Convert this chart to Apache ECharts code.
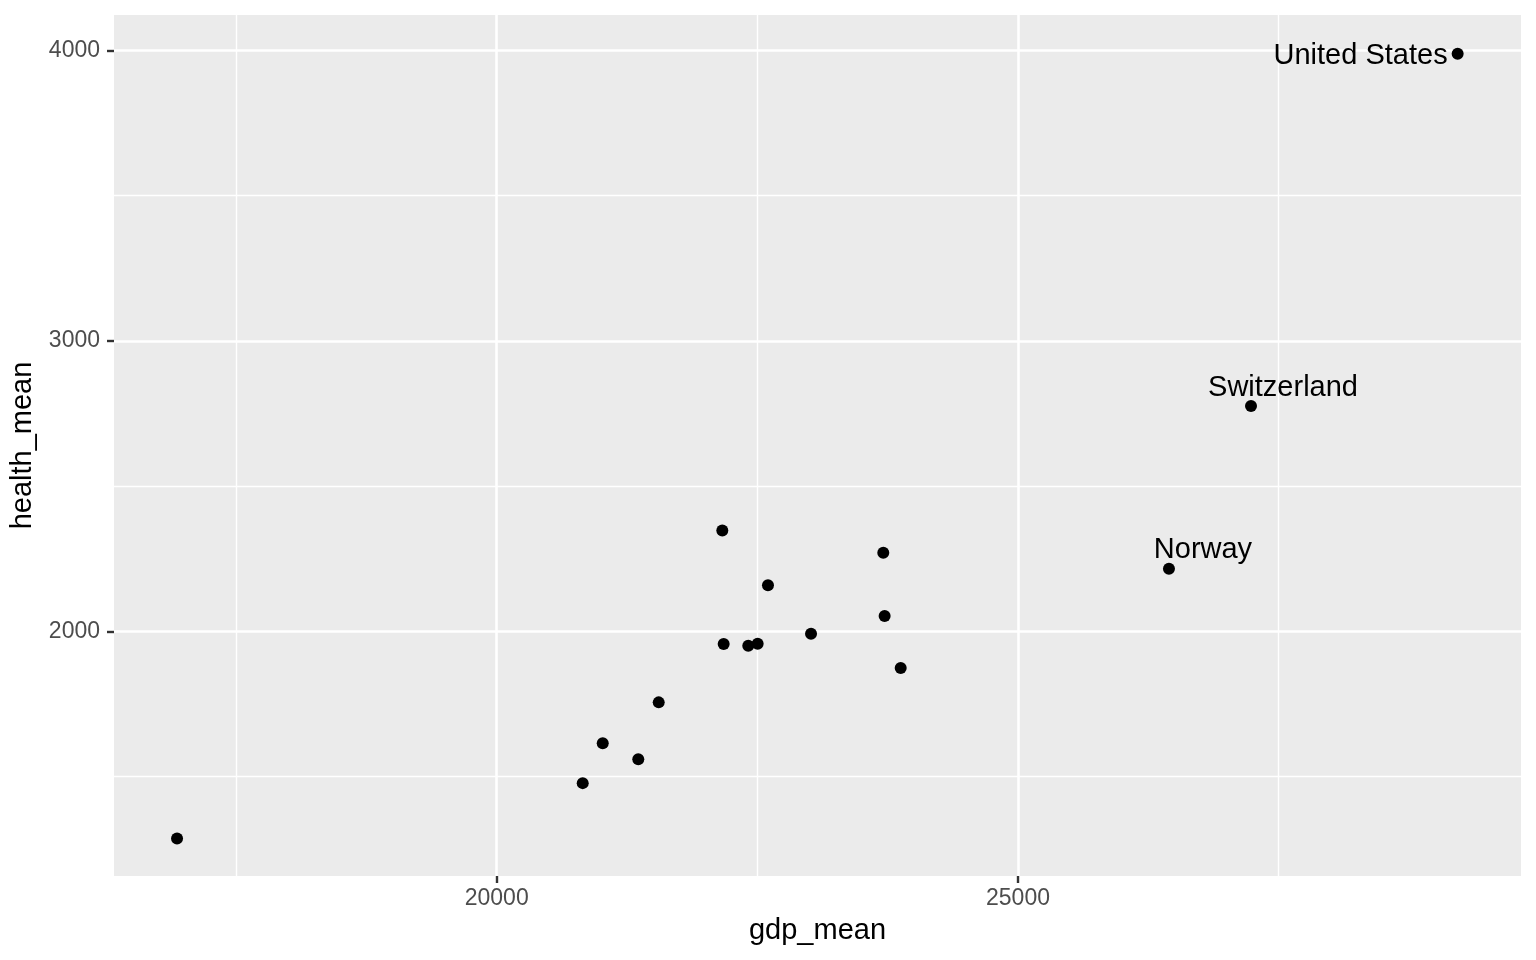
<!DOCTYPE html>
<html>
<head>
<meta charset="utf-8">
<script src="https://cdn.jsdelivr.net/npm/echarts@6/dist/echarts.min.js"></script>
<style>
html,body{margin:0;padding:0;background:#fff;}
#chart{width:1536px;height:960px;}
</style>
</head>
<body>
<div id="chart"></div>
<script>
// Data
const gdpMean = [16934, 20825, 21017, 21358, 21554, 22164, 22177, 22413, 22503, 22602, 23015, 23708, 23721, 23875, 26448, 27235, 29217];
const healthMean = [1287, 1478, 1615, 1560, 1756, 2348, 1957, 1951, 1958, 2159, 1992, 2271, 2053, 1874, 2216, 2776, 3989];
const pointLabels = ['', '', '', '', '', '', '', '', '', '', '', '', '', '', 'Norway', 'Switzerland', 'United States'];
const xTicks = [20000, 25000];
const yTicks = [2000, 3000, 4000];
const xMinorGrid = [17500, 22500, 27500];
const yMinorGrid = [1500, 2500, 3500];
const xRange = [16329.4, 29824.6];
const yRange = [1158.3, 4122.2];

const labelStyle = {
  'Norway': {position: 'inside', offset: [34, -19]},
  'Switzerland': {position: 'inside', offset: [32, -18]},
  'United States': {position: 'left', distance: 4, offset: [0, 2]}
};

const points = gdpMean.map((g, i) => {
  const name = pointLabels[i];
  const d = {value: [g, healthMean[i]], name: name};
  if (name) {
    d.label = Object.assign({show: true, formatter: name, color: '#000', fontSize: 29, fontFamily: 'Liberation Sans, Arial, sans-serif'}, labelStyle[name]);
  }
  return d;
});

const gridLines = [];
xMinorGrid.forEach(v => gridLines.push({xAxis: v, lineStyle: {width: 1.4}}));
yMinorGrid.forEach(v => gridLines.push({yAxis: v, lineStyle: {width: 1.4}}));
xTicks.forEach(v => gridLines.push({xAxis: v, lineStyle: {width: 2.6}}));
yTicks.forEach(v => gridLines.push({yAxis: v, lineStyle: {width: 2.6}}));

const tickFont = {color: '#4D4D4D', fontSize: 23, fontFamily: 'Liberation Sans, Arial, sans-serif', formatter: v => String(v)};

const chart = echarts.init(document.getElementById('chart'), null, {renderer: 'canvas'});
chart.setOption({
  animation: false,
  backgroundColor: '#FFFFFF',
  grid: {left: 114, right: 15, top: 15, bottom: 84, show: true, backgroundColor: '#EBEBEB', borderWidth: 0, containLabel: false, outerBoundsMode: 'none'},
  xAxis: {
    type: 'value', min: xRange[0], max: xRange[1],
    name: 'gdp_mean', nameLocation: 'middle', nameGap: 40,
    nameTextStyle: {color: '#000', fontSize: 29, fontFamily: 'Liberation Sans, Arial, sans-serif'},
    axisLine: {show: false},
    axisTick: {show: true, customValues: xTicks, length: 7, lineStyle: {color: '#333333', width: 2.4}},
    axisLabel: Object.assign({customValues: xTicks, margin: 11}, tickFont),
    splitLine: {show: false}
  },
  yAxis: {
    type: 'value', min: yRange[0], max: yRange[1],
    name: 'health_mean', nameLocation: 'middle', nameGap: 74, nameRotate: 90,
    nameTextStyle: {color: '#000', fontSize: 29, fontFamily: 'Liberation Sans, Arial, sans-serif'},
    axisLine: {show: false},
    axisTick: {show: true, customValues: yTicks, length: 7, lineStyle: {color: '#333333', width: 2.4}},
    axisLabel: Object.assign({customValues: yTicks, margin: 14}, tickFont),
    splitLine: {show: false}
  },
  series: [
    {
      type: 'scatter', data: [], z: 1, silent: true,
      markLine: {
        z: 1,
        silent: true, symbol: ['none', 'none'], label: {show: false},
        lineStyle: {color: '#FFFFFF', type: 'solid'},
        emphasis: {disabled: true},
        data: gridLines
      }
    },
    {
      type: 'scatter', z: 3,
      symbol: 'circle', symbolSize: 12,
      itemStyle: {color: '#000000', opacity: 1},
      label: {show: false},
      data: points
    }
  ]
});
</script>
</body>
</html>
